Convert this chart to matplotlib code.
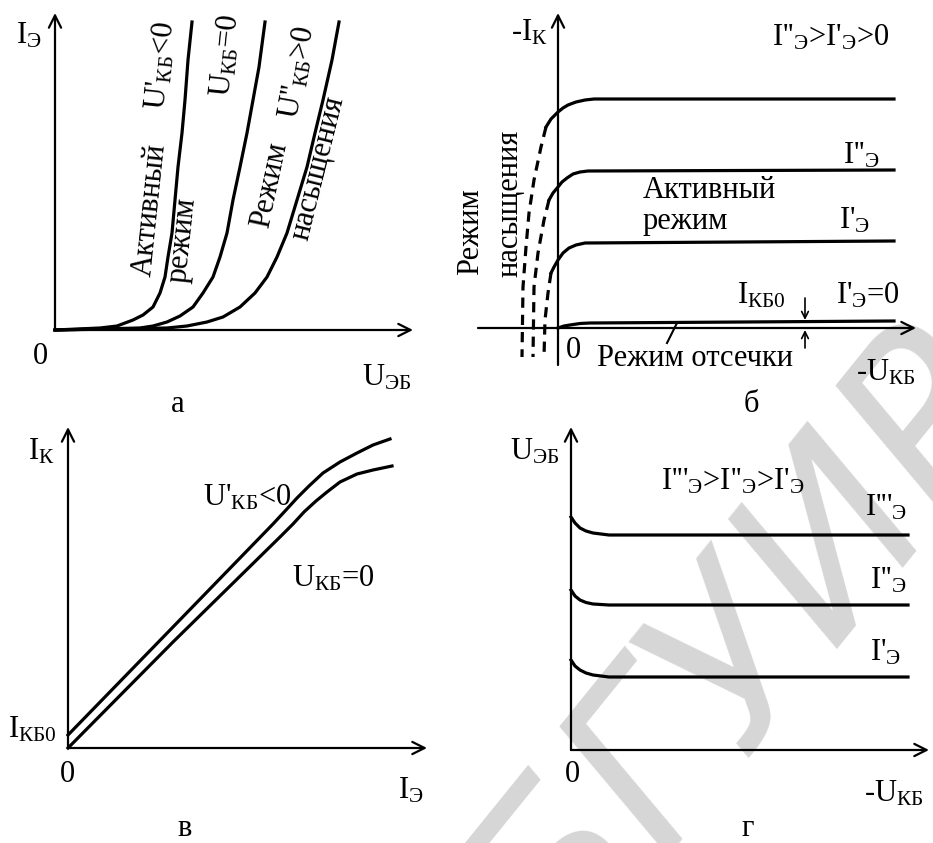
import matplotlib
matplotlib.use("Agg")
import matplotlib.pyplot as plt

plt.rcParams['font.family'] = ['Liberation Serif', 'DejaVu Serif']
plt.rcParams['mathtext.fontset'] = 'custom'
plt.rcParams['mathtext.rm'] = 'Liberation Serif'
plt.rcParams['mathtext.it'] = 'Liberation Serif:italic'
plt.rcParams['mathtext.default'] = 'rm'

# --- panel a: input characteristics I_E(U_EB) ---
a_u1 = [0, 4.5, 6.2, 7.8, 8.8, 9.8, 10.5, 11.0, 11.3, 11.7, 12.0, 12.3, 12.7, 13.0, 13.3, 13.7]
a_i1 = [0, 0.2, 0.4, 1.0, 1.5, 2.3, 3.7, 5.3, 7.3, 9.7, 13.0, 16.3, 19.7, 23.0, 27.0, 30.8]
a_u2 = [0, 8.5, 9.8, 11.2, 12.5, 13.8, 14.8, 15.8, 16.5, 17.2, 17.8, 18.5, 19.2, 19.8, 20.4, 21.0]
a_i2 = [0, 0.2, 0.4, 0.8, 1.4, 2.3, 3.7, 5.3, 7.3, 9.7, 13.0, 16.3, 19.7, 23.0, 26.3, 30.8]
a_u3 = [0, 11.2, 13.2, 15.2, 16.8, 18.5, 20.0, 21.2, 22.2, 23.2, 24.2, 25.2, 26.0, 26.8, 27.7, 28.4]
a_i3 = [0, 0.2, 0.4, 0.8, 1.3, 2.3, 3.7, 5.3, 7.3, 9.7, 13.0, 16.3, 19.7, 23.0, 27.0, 30.8]

# --- panel b: output characteristics -I_K(-U_KB) ---
b_u_top = [-1.2, -0.7, 0, 0.5, 1.0, 1.8, 2.7, 3.6, 33.6]
b_i_top = [20.1, 20.9, 21.6, 22.0, 22.3, 22.6, 22.8, 22.9, 22.9]
b_u_mid = [-0.9, -0.5, 0, 0.4, 0.9, 1.5, 2.2, 3.0, 33.6]
b_i_mid = [12.8, 13.5, 14.1, 14.6, 15.0, 15.4, 15.6, 15.7, 15.8]
b_u_low = [-0.7, -0.4, 0, 0.5, 1.1, 1.8, 2.7, 33.6]
b_i_low = [5.5, 6.1, 6.8, 7.5, 8.0, 8.3, 8.5, 8.7]
b_u_zero = [0, 0.6, 1.2, 2.2, 3.2, 33.6]
b_i_zero = [0, 0.2, 0.3, 0.45, 0.5, 0.7]
b_du_top = [-1.2, -1.7, -2.4, -2.9, -3.2, -3.5, -3.6]
b_di_top = [20.1, 18.1, 14.8, 11.5, 8.1, 4.1, -2.9]
b_du_mid = [-0.9, -1.4, -2.0, -2.4, -2.5]
b_di_mid = [12.8, 10.8, 7.5, 4.1, -2.9]
b_du_low = [-0.7, -1.0, -1.3, -1.4]
b_di_low = [5.5, 3.5, 0.8, -2.9]

# --- panel v: transfer characteristics I_K(I_E) ---
v_ie1 = [0, 10.5, 20.5, 21.8, 22.9, 24.1, 25.5, 27.2, 28.9, 30.5, 32.2]
v_ik1 = [1.3, 12.1, 22.4, 23.8, 25.0, 26.2, 27.5, 28.6, 29.5, 30.3, 30.9]
v_ie2 = [0, 10.5, 21.2, 22.5, 23.6, 24.8, 25.9, 27.2, 28.9, 30.5, 32.4]
v_ik2 = [0, 10.6, 21.1, 22.4, 23.6, 24.7, 25.6, 26.6, 27.4, 27.8, 28.2]

# --- panel g: feedback characteristics U_EB(-U_KB) ---
g_u = [0, 0.4, 0.9, 1.5, 2.2, 3.0, 3.8, 33.7]
g_e3 = [23.3, 22.7, 22.2, 21.9, 21.7, 21.6, 21.5, 21.5]
g_e2 = [16.0, 15.4, 15.0, 14.75, 14.6, 14.55, 14.5, 14.5]
g_e1 = [9.0, 8.4, 8.0, 7.7, 7.5, 7.4, 7.3, 7.3]

LW = 2.3
AX_LW = 1.6
FS = 22

fig = plt.figure(figsize=(9.33, 8.43), dpi=100)
W, H = 933, 843


def make_ax(x0, y0, w, h, xlim, ylim):
    ax = fig.add_axes([x0 / W, 1 - (y0 + h) / H, w / W, h / H])
    ax.set_xlim(*xlim)
    ax.set_ylim(*ylim)
    ax.axis('off')
    return ax


def arrow(ax, start, end, lw=AX_LW, ms=22):
    ax.annotate('', xy=end, xytext=start,
                arrowprops=dict(arrowstyle='->', lw=lw, color='black',
                                mutation_scale=ms, shrinkA=0, shrinkB=0))


def txt(ax, x, y, s, rot=0, fs=FS, ha='center', va='center'):
    ax.text(x, y, s, fontsize=fs, rotation=rot, ha=ha, va=va,
            rotation_mode='anchor')


# faint watermark behind everything
fig.text(0.80, 0.225, 'БГУИР', fontsize=165, rotation=51, color='#d6d6d6',
         ha='center', va='center', family='DejaVu Sans', style='italic',
         zorder=-10)

# panel a
ax = make_ax(0, 0, 466, 420, (-5.5, 41.1), (-9.0, 33.0))
arrow(ax, (0, 0), (35.8, 0))
arrow(ax, (0, 0), (0, 31.7))
for u, i in [(a_u1, a_i1), (a_u2, a_i2), (a_u3, a_i3)]:
    ax.plot(u, i, color='black', lw=LW, solid_joinstyle='round')
txt(ax, -2.6, 29.4, r'I$_{\mathrm{Э}}$')
txt(ax, -1.5, -2.6, '0')
txt(ax, 33.2, -4.8, r'U$_{\mathrm{ЭБ}}$')
txt(ax, 12.3, -7.5, 'а')
txt(ax, 9.5, 12.0, 'Активный', rot=84)
txt(ax, 10.6, 26.4, r"U'$_{\mathrm{КБ}}$<0", rot=84)
txt(ax, 12.8, 9.0, 'режим', rot=84)
txt(ax, 17.1, 27.5, r'U$_{\mathrm{КБ}}$=0', rot=84)
txt(ax, 21.5, 14.5, 'Режим', rot=78)
txt(ax, 24.3, 25.8, r"U''$_{\mathrm{КБ}}$>0", rot=80)
txt(ax, 26.3, 16.2, 'насыщения', rot=76)

# panel b
ax = make_ax(466, 0, 467, 420, (-9.2, 37.5), (-9.2, 32.8))
arrow(ax, (-8.0, 0), (35.8, 0))
arrow(ax, (0, -3.7), (0, 31.5))
for u, i in [(b_u_top, b_i_top), (b_u_mid, b_i_mid), (b_u_low, b_i_low),
             (b_u_zero, b_i_zero)]:
    ax.plot(u, i, color='black', lw=LW, solid_joinstyle='round')
for u, i in [(b_du_top, b_di_top), (b_du_mid, b_di_mid), (b_du_low, b_di_low)]:
    ax.plot(u, i, color='black', lw=LW, ls=(0, (3.2, 2.2)))
arrow(ax, (24.7, 3.0), (24.7, 0.8), lw=1.2, ms=12)
arrow(ax, (24.7, -2.0), (24.7, -0.2), lw=1.2, ms=12)
ax.plot([10.9, 11.9], [-1.5, 0.5], color='black', lw=1.5)
txt(ax, -2.9, 29.5, r'-I$_{\mathrm{К}}$')
txt(ax, 27.3, 29.0, r"I''$_{\mathrm{Э}}$>I'$_{\mathrm{Э}}$>0")
txt(ax, 30.3, 17.2, r"I''$_{\mathrm{Э}}$")
txt(ax, 8.5, 13.8, 'Активный', ha='left')
txt(ax, 8.5, 10.6, 'режим', ha='left')
txt(ax, 29.7, 10.7, r"I'$_{\mathrm{Э}}$")
txt(ax, 20.3, 3.2, r'I$_{\mathrm{КБ0}}$')
txt(ax, 31.0, 3.2, r"I'$_{\mathrm{Э}}$=0")
txt(ax, 1.5, -2.3, '0')
txt(ax, 13.7, -3.0, 'Режим отсечки')
txt(ax, 32.8, -4.5, r'-U$_{\mathrm{КБ}}$')
txt(ax, 19.3, -7.7, 'б')
txt(ax, -8.7, 9.6, 'Режим', rot=90)
txt(ax, -4.8, 12.5, 'насыщения', rot=90)

# panel v
ax = make_ax(0, 420, 466, 423, (-6.8, 39.8), (-9.5, 32.8))
arrow(ax, (0, 0), (35.9, 0))
arrow(ax, (0, 0), (0, 32.1))
ax.plot(v_ie1, v_ik1, color='black', lw=LW, solid_joinstyle='round')
ax.plot(v_ie2, v_ik2, color='black', lw=LW, solid_joinstyle='round')
txt(ax, -2.7, 29.6, r'I$_{\mathrm{К}}$')
txt(ax, 17.9, 25.0, r"U'$_{\mathrm{КБ}}$<0")
txt(ax, 26.5, 16.9, r'U$_{\mathrm{КБ}}$=0')
txt(ax, -3.6, 1.8, r'I$_{\mathrm{КБ0}}$')
txt(ax, -0.1, -2.6, '0')
txt(ax, 34.3, -4.3, r'I$_{\mathrm{Э}}$')
txt(ax, 11.7, -8.0, 'в')

# panel g
ax = make_ax(466, 420, 467, 423, (-10.5, 36.2), (-9.3, 33.0))
arrow(ax, (0, 0), (35.8, 0))
arrow(ax, (0, 0), (0, 32.3))
for e in [g_e3, g_e2, g_e1]:
    ax.plot(g_u, e, color='black', lw=LW, solid_joinstyle='round')
txt(ax, -3.6, 29.8, r'U$_{\mathrm{ЭБ}}$')
txt(ax, 16.2, 26.8, r"I'''$_{\mathrm{Э}}$>I''$_{\mathrm{Э}}$>I'$_{\mathrm{Э}}$")
txt(ax, 31.5, 24.2, r"I'''$_{\mathrm{Э}}$")
txt(ax, 31.7, 16.9, r"I''$_{\mathrm{Э}}$")
txt(ax, 31.5, 9.7, r"I'$_{\mathrm{Э}}$")
txt(ax, 0.1, -2.4, '0')
txt(ax, 32.3, -4.4, r'-U$_{\mathrm{КБ}}$')
txt(ax, 17.7, -7.8, 'г')

fig.savefig('out.png', dpi=100)
